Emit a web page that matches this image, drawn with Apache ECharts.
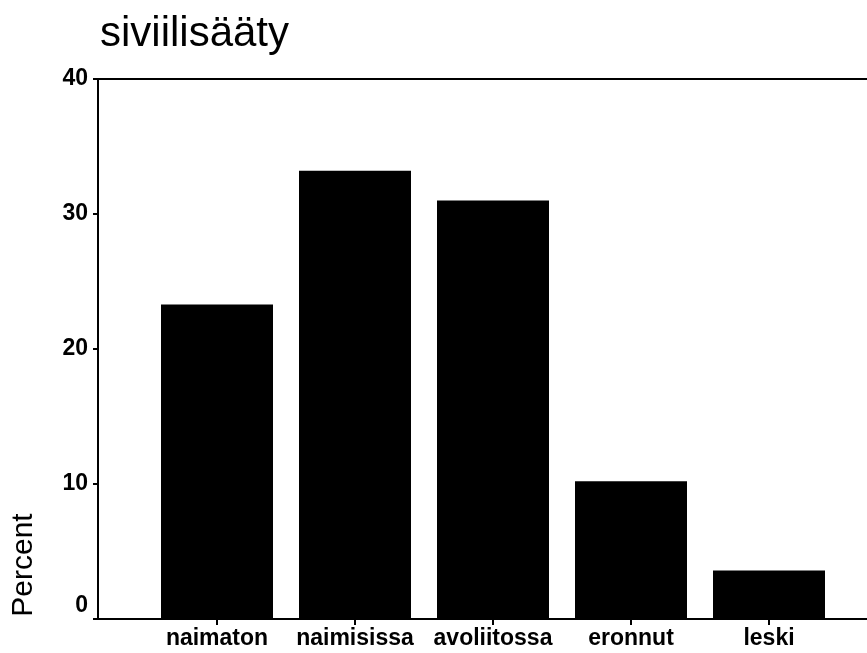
<!DOCTYPE html>
<html>
<head>
<meta charset="utf-8">
<script src="https://cdn.jsdelivr.net/npm/echarts@6/dist/echarts.min.js"></script>
<style>
  html, body { margin: 0; padding: 0; background: #fff; }
  #chart { width: 867px; height: 653px; }
</style>
</head>
<body>
<div id="chart"></div>
<script>
  // data
  var categories = ['naimaton', 'naimisissa', 'avoliitossa', 'eronnut', 'leski'];
  var percents = [23.3, 33.2, 31.0, 10.2, 3.6];
  var yTicks = [0, 10, 20, 30, 40];

  var font = 'Liberation Sans, Arial, Helvetica, sans-serif';
  var chart = echarts.init(document.getElementById('chart'));

  var option = {
    backgroundColor: '#fff',
    animation: false,
    title: {
      text: 'siviilisääty',
      left: 95,
      top: 8,
      textStyle: { fontFamily: font, fontSize: 42, fontWeight: 'normal', color: '#000' }
    },
    grid: [
      // frame + y axis
      { left: 98, right: 0, top: 79, bottom: 34 },
      // bars
      { left: 148, right: 29, top: 79, bottom: 34 }
    ],
    xAxis: [
      {
        gridIndex: 0, type: 'value', min: 0, max: 1, position: 'bottom',
        axisLine: { show: true, lineStyle: { color: '#000', width: 2 } },
        axisTick: { show: false }, axisLabel: { show: false }, splitLine: { show: false }
      },
      {
        gridIndex: 0, type: 'value', min: 0, max: 1, position: 'top',
        axisLine: { show: true, lineStyle: { color: '#000', width: 2 } },
        axisTick: { show: false }, axisLabel: { show: false }, splitLine: { show: false }
      },
      {
        gridIndex: 1, type: 'category', data: categories,
        axisLine: { show: false },
        axisTick: { show: true, alignWithLabel: true, length: 6, lineStyle: { color: '#000', width: 2 } },
        axisLabel: { interval: 0, margin: 8, color: '#000', fontFamily: font, fontSize: 23, fontWeight: 'bold' }
      }
    ],
    yAxis: [
      {
        gridIndex: 0, type: 'value', min: 0, max: 40, interval: 10,
        axisLine: { show: true, lineStyle: { color: '#000', width: 2 } },
        axisTick: { show: true, length: 5, lineStyle: { color: '#000', width: 2 } },
        axisLabel: {
          margin: 10, color: '#000', fontFamily: font, fontSize: 23, fontWeight: 'bold',
          formatter: function (v) {
            if (yTicks.indexOf(v) < 0) return '';
            // the 0 label sits a bit above its tick in the original
            return v === 0 ? '{z|0}' : String(v);
          },
          rich: {
            z: { fontFamily: font, fontSize: 23, fontWeight: 'bold', color: '#000', padding: [0, 0, 26, 0] }
          }
        },
        splitLine: { show: false }
      },
      {
        gridIndex: 1, type: 'value', min: 0, max: 40, show: false
      }
    ],
    graphic: [
      {
        type: 'text',
        x: 24, y: 565,
        rotation: Math.PI / 2,
        style: {
          text: 'Percent',
          fontFamily: font, fontSize: 30,
          fill: '#000',
          align: 'center', verticalAlign: 'middle'
        }
      }
    ],
    series: [
      {
        type: 'bar',
        xAxisIndex: 2,
        yAxisIndex: 1,
        data: percents,
        barWidth: 112,
        itemStyle: { color: '#000' }
      }
    ]
  };

  chart.setOption(option);
</script>
</body>
</html>
